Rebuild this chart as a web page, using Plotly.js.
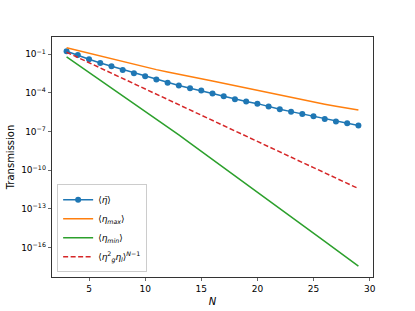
<!DOCTYPE html>
<html>
<head>
<meta charset="utf-8">
<script src="https://cdn.plot.ly/plotly-3.0.1.min.js"></script>
<style>html,body{margin:0;padding:0;background:#fff;}#chart{width:415px;height:311px;}</style>
</head>
<body>
<div id="chart"></div>
<script>
const N = [3,4,5,6,7,8,9,10,11,12,13,14,15,16,17,18,19,20,21,22,23,24,25,26,27,28,29];
// log10 values
const logMean = [-0.77,-1.05,-1.39,-1.68,-1.93,-2.22,-2.47,-2.71,-2.96,-3.20,-3.43,-3.64,-3.82,-4.05,-4.26,-4.49,-4.67,-4.83,-5.06,-5.27,-5.45,-5.63,-5.81,-6.02,-6.22,-6.35,-6.53];
const logMax = [-0.49,-0.71,-0.93,-1.15,-1.36,-1.57,-1.78,-1.99,-2.19,-2.38,-2.57,-2.76,-2.90,-3.07,-3.25,-3.45,-3.63,-3.81,-4.00,-4.18,-4.37,-4.55,-4.71,-4.87,-5.03,-5.18,-5.32];
const logMin = [-1.21,-1.81,-2.41,-3.00,-3.60,-4.20,-4.80,-5.40,-6.00,-6.63,-7.26,-7.90,-8.53,-9.16,-9.79,-10.42,-11.05,-11.68,-12.32,-12.96,-13.60,-14.24,-14.88,-15.52,-16.16,-16.80,-17.44];
const logPred = [-0.84,-1.25,-1.65,-2.06,-2.47,-2.88,-3.28,-3.69,-4.10,-4.50,-4.91,-5.32,-5.72,-6.13,-6.54,-6.95,-7.35,-7.76,-8.17,-8.57,-8.98,-9.39,-9.79,-10.20,-10.61,-11.02,-11.42];
const yTickExp = [-1,-4,-7,-10,-13,-16];
const xTicks = [5,10,15,20,25,30];

const pw = v => v.map(e => Math.pow(10, e));
const font = {family: 'DejaVu Sans', size: 9, color: '#000'};

const traces = [
  {x: N, y: pw(logMean), mode: 'lines+markers', name: '⟨<i>η̄</i>⟩',
   line: {color: '#1f77b4', width: 1.5}, marker: {color: '#1f77b4', size: 6}},
  {x: N, y: pw(logMax), mode: 'lines', name: '⟨<i>η</i><sub><i>max</i></sub>⟩',
   line: {color: '#ff7f0e', width: 1.5}},
  {x: N, y: pw(logMin), mode: 'lines', name: '⟨<i>η</i><sub><i>min</i></sub>⟩',
   line: {color: '#2ca02c', width: 1.5}},
  {x: N, y: pw(logPred), mode: 'lines', name: '⟨<i>η</i><sup>2</sup><sub><i>g</i></sub><i>η</i><sub><i>l</i></sub>⟩<sup><i>N</i>−1</sup>',
   line: {color: '#d62728', width: 1.5, dash: '5px,2.5px'}}
];

const layout = {
  width: 415, height: 311,
  margin: {l: 52, r: 42, t: 37, b: 34},
  paper_bgcolor: '#fff', plot_bgcolor: '#fff',
  font: font,
  showlegend: true,
  legend: {x: 0.016, y: 0.02, xanchor: 'left', yanchor: 'bottom',
           bgcolor: 'rgba(255,255,255,0.8)', bordercolor: '#cccccc', borderwidth: 1,
           font: {family: 'DejaVu Sans', size: 9}, tracegroupgap: 0, itemwidth: 30},
  xaxis: {range: [1.7, 30.3], tickvals: xTicks, ticks: 'outside', ticklen: 3.5, tickwidth: 0.8,
          showgrid: false, zeroline: false, showline: true, mirror: true, linecolor: '#000', linewidth: 0.8,
          tickfont: font, title: {text: '<i>N</i>', font: {family: 'DejaVu Sans', size: 10}, standoff: 4}},
  yaxis: {type: 'log', range: [-18.28, 0.34], tickvals: yTickExp.map(e => Math.pow(10, e)),
          ticktext: yTickExp.map(e => '10<sup>−' + Math.abs(e) + '</sup>'),
          ticks: 'outside', ticklen: 3.5, tickwidth: 0.8,
          showgrid: false, zeroline: false, showline: true, mirror: true, linecolor: '#000', linewidth: 0.8,
          tickfont: font, title: {text: 'Transmission', font: {family: 'DejaVu Sans', size: 10}, standoff: 4}}
};

Plotly.newPlot('chart', traces, layout, {displayModeBar: false, staticPlot: true});
</script>
</body>
</html>
